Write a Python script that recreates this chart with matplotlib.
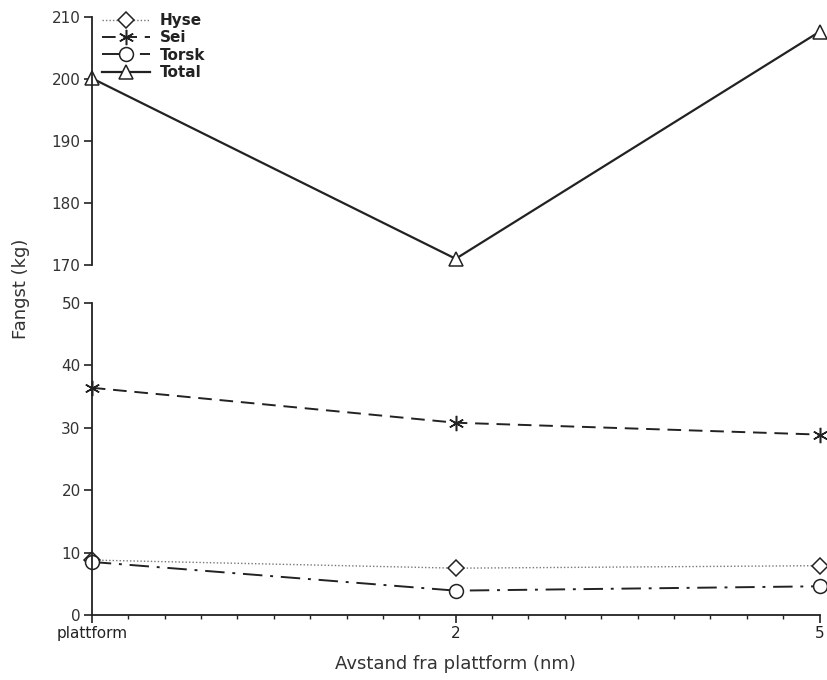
import numpy as np
import matplotlib
matplotlib.use("Agg")
import matplotlib.pyplot as plt

# avstand fra plattform (nm), plottet som kategorier
xLabels = ["plattform", "2", "5"]
xPos = np.arange(len(xLabels))

hyse = [8.8, 7.5, 7.9]
sei = [36.4, 30.8, 28.9]
torsk = [8.5, 3.9, 4.6]
total = [200.1, 171.0, 207.6]

plt.rcParams["font.family"] = "DejaVu Sans"
plt.rcParams["font.size"] = 11

fig = plt.figure(figsize=(8.27, 6.8), dpi=100)
axTop = fig.add_axes([0.111, 0.6103, 0.88, 0.365])
axBot = fig.add_axes([0.111, 0.0956, 0.88, 0.459])

ink = "#222222"
mk = dict(markersize=10, markerfacecolor="white", markeredgecolor=ink, markeredgewidth=1.1)

hLine, = axBot.plot(xPos, hyse, color="#777777", linestyle=(0, (1, 1.5)), linewidth=1.0,
                    marker="D", **dict(mk, markersize=8))
sLine, = axBot.plot(xPos, sei, color=ink, linestyle=(0, (7, 4)), linewidth=1.4,
                    marker=(6, 2, 0), markersize=11, markeredgecolor=ink, markeredgewidth=1.1)
tLine, = axBot.plot(xPos, torsk, color=ink, linestyle=(0, (10, 4, 1.5, 4)), linewidth=1.4,
                    marker="o", **mk)
totLine, = axTop.plot(xPos, total, color=ink, linestyle="-", linewidth=1.6,
                      marker="^", **mk)

for ax in (axTop, axBot):
    ax.set_xlim(0, 2)
    ax.spines["top"].set_visible(False)
    ax.spines["right"].set_visible(False)
    ax.spines["left"].set_color(ink)
    ax.spines["left"].set_linewidth(1.3)
    ax.tick_params(axis="y", direction="out", length=6, width=1.2, colors=ink, labelsize=11, pad=2)
    for lab in ax.get_yticklabels():
        lab.set_color("#333333")
    ax.set_clip_on(False)
    for ln in ax.lines:
        ln.set_clip_on(False)

axTop.set_ylim(170, 210)
axTop.set_yticks(np.arange(170, 211, 10))
axTop.spines["bottom"].set_visible(False)
axTop.set_xticks([])

axBot.set_ylim(0, 50)
axBot.set_yticks(np.arange(0, 51, 10))
axBot.spines["bottom"].set_color(ink)
axBot.spines["bottom"].set_linewidth(1.3)
axBot.set_xticks(xPos)
axBot.set_xticklabels(xLabels, color="#333333", fontsize=11)
axBot.set_xticks(np.arange(0, 2.01, 0.1), minor=True)
axBot.tick_params(axis="x", which="major", direction="out", length=6, width=1.2, colors=ink, pad=2)
axBot.tick_params(axis="x", which="minor", direction="out", length=3, width=1.0, colors=ink)
axBot.set_xlabel("Avstand fra plattform (nm)", fontsize=13, color="#333333", labelpad=10)

fig.text(0.025, 0.575, "Fangst (kg)", rotation=90, fontsize=13, color="#333333",
         ha="center", va="center")

leg = axTop.legend([hLine, sLine, tLine, totLine], ["Hyse", "Sei", "Torsk", "Total"],
                   loc="upper left", bbox_to_anchor=(0.005, 1.04), frameon=False,
                   handlelength=3.2, handletextpad=0.6, labelspacing=0.15,
                   borderaxespad=0, prop={"weight": "bold", "size": 11})
for txt in leg.get_texts():
    txt.set_color("#222222")

fig.savefig("out.png", dpi=100)
